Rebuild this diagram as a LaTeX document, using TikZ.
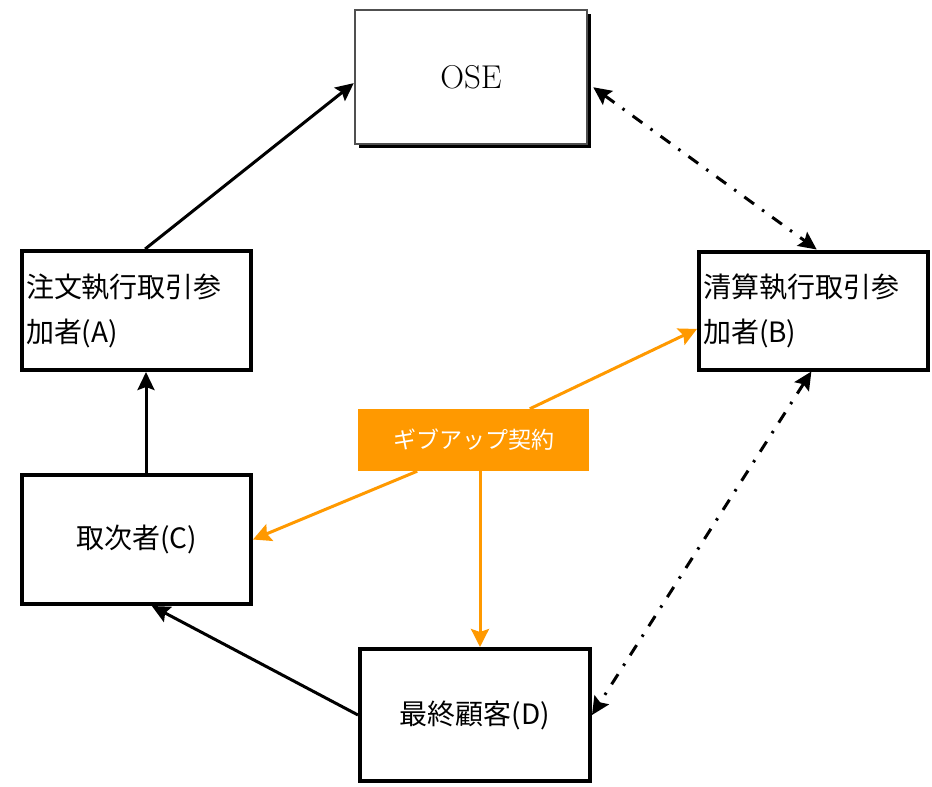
\documentclass[tikz,border=0pt]{standalone}
\usepackage{fontspec}
\usepackage{tikz}
\usetikzlibrary{positioning, arrows.meta, calc, shadows}
\newfontfamily\jpfont{Noto Sans CJK JP}
\definecolor{gbOrange}{RGB}{255,153,0}
\definecolor{gbGray}{RGB}{80,80,80}

\begin{document}
\begin{tikzpicture}[x=1pt, y=-1pt,
	party/.style={draw, line width=4pt, fill=white, inner sep=4pt, font=\jpfont\fontsize{28}{45}\selectfont},
	flow/.style={line width=3pt, -{Stealth[length=18pt, width=17pt, inset=3pt]}},
	clear/.style={line width=3pt, dash pattern=on 12pt off 10pt on 2.5pt off 10pt, {Stealth[length=18pt, width=17pt, inset=3pt]}-{Stealth[length=18pt, width=17pt, inset=3pt]}},
	giveup/.style={line width=3pt, gbOrange, -{Stealth[length=18pt, width=18pt, inset=3pt]}}]
	\useasboundingbox (0,0) rectangle (932,787);
	\node[draw=gbGray, line width=2.5pt, fill=white, minimum width=232pt, minimum height=134pt, font=\fontsize{33}{40}\selectfont, drop shadow={shadow xshift=4pt, shadow yshift=-4pt, fill=black, opacity=1}] (ose) at (471,77) {OSE};
	\node[party, align=left, text width=221pt, minimum height=119pt] (a) at (136.5,310.5) {注文執行取引参\\加者(A)};
	\node[party, align=left, text width=221pt, minimum height=118pt, right=444pt of a] (b) {清算執行取引参\\加者(B)};
	\node[party, below=101pt of a, minimum width=229pt, minimum height=129pt] (c) {取次者(C)};
	\node[party, minimum width=230pt, minimum height=132pt] (d) at (475,715) {最終顧客(D)};
	\node[fill=gbOrange, text=white, minimum width=231pt, minimum height=62pt, inner sep=0pt, font=\jpfont\fontsize{23}{28}\selectfont] (gb) at (473.5,440) {ギブアップ契約};
	% orders and positions
	\draw[flow] (a.82) -- (ose.183);
	\draw[flow] ([xshift=9.5pt]c.north) -- ([xshift=9.5pt]a.south);
	\draw[flow] (d.west) -- (c.-77);
	% clearing links
	\draw[clear] ([xshift=5pt]ose.-5) -- (b.87);
	\draw[clear] (b.-92) -- (d.east);
	% give-up agreement
	\draw[giveup] (gb.209) -- (c.east);
	\draw[giveup] (gb.29) -- (b.-171);
	\draw[giveup] ([xshift=6.5pt]gb.south) -- ([xshift=5pt]d.north);
\end{tikzpicture}
\end{document}
